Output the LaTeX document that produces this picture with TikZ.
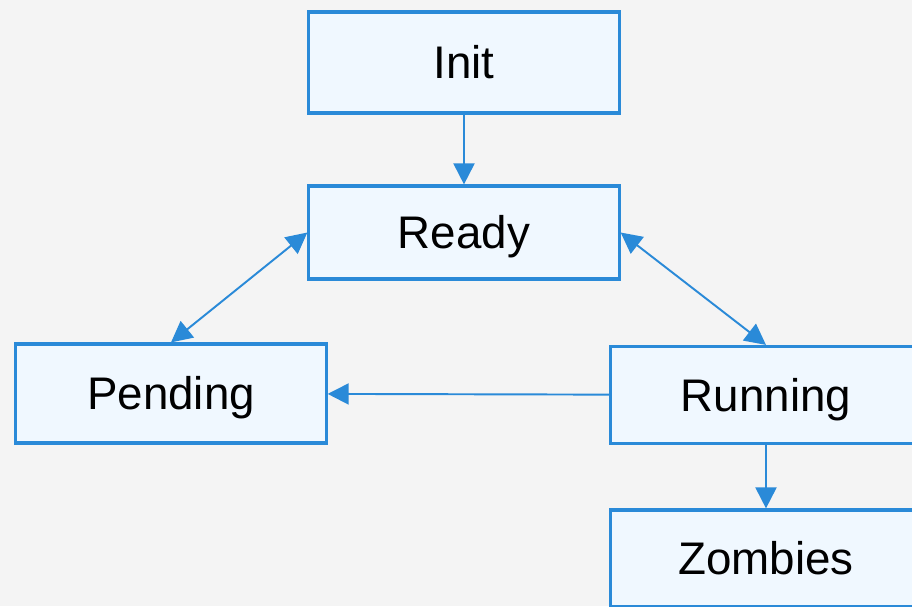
\documentclass[tikz,border=0pt]{standalone}
\usepackage{fontspec}
\setmainfont{Liberation Sans}
\usetikzlibrary{arrows.meta}

\definecolor{boxblue}{HTML}{2A8AD8}
\definecolor{boxfill}{HTML}{F0F8FF}
\definecolor{paper}{HTML}{F4F4F4}

\tikzset{
    state/.style={draw=boxblue, line width=0.9pt, fill=boxfill, minimum width=3.1cm,
        inner sep=0pt, text height=9.3pt, text depth=0pt, font=\fontsize{13}{15}\selectfont},
    link/.style={draw=boxblue, line width=0.55pt, -{Triangle[length=2.1mm,width=2.1mm]}},
    twolink/.style={link, {Triangle[length=2.1mm,width=2.1mm]}-{Triangle[length=2.1mm,width=2.1mm]}},
}

\begin{document}
\begin{tikzpicture}
    \def\F{0.01} % pixels to cm

    \useasboundingbox (0,0) rectangle (912*\F, -606*\F);
    \clip (0,0) rectangle (912*\F, -606*\F);
    \fill[paper] (0,0) rectangle (912*\F, -606*\F);

    \node[state, minimum height=1.01cm] (init) at (464*\F, -62.5*\F) {Init};
    \node[state, minimum height=0.93cm] (ready) at (464*\F, -232.5*\F) {Ready};
    \node[state, minimum height=0.99cm] (pending) at (171*\F, -393.5*\F) {Pending};
    \node[state, minimum height=0.97cm] (running) at (766*\F, -395*\F) {Running};
    \node[state, minimum height=0.97cm] (zombies) at (766*\F, -558.5*\F) {Zombies};

    \draw[link] (init) -- (ready);
    \draw[twolink] (ready.west) -- (pending.north);
    \draw[twolink] (ready.east) -- (running.north);
    \draw[link] (running) -- (pending);
    \draw[link] (running) -- (zombies);
\end{tikzpicture}
\end{document}
